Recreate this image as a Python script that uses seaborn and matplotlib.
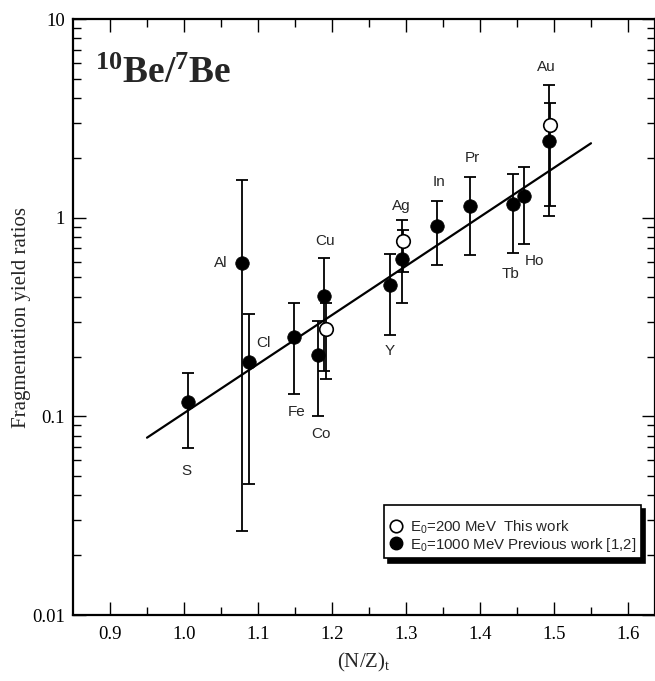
import numpy as np
import pandas as pd
import matplotlib
matplotlib.use("Agg")
import matplotlib.pyplot as plt
from matplotlib.ticker import FixedLocator, NullFormatter, LogLocator, FixedFormatter
from matplotlib.lines import Line2D
import seaborn as sns

# 1000 MeV (previous work) fragmentation yield ratios
targets = ['S', 'Al', 'Cl', 'Fe', 'Co', 'Cu', 'Y', 'Ag', 'In', 'Pr', 'Tb', 'Ho', 'Au']
nz_prev = [1.005, 1.078, 1.088, 1.149, 1.181, 1.189, 1.278, 1.295, 1.342, 1.387, 1.444, 1.460, 1.493]
ratio_prev = [0.118, 0.59, 0.187, 0.251, 0.203, 0.403, 0.457, 0.62, 0.911, 1.14, 1.176, 1.28, 2.42]
upper_prev = [0.165, 1.55, 0.328, 0.373, 0.301, 0.63, 0.657, 0.97, 1.22, 1.60, 1.66, 1.79, 4.66]
lower_prev = [0.0696, 0.0265, 0.0455, 0.129, 0.100, 0.170, 0.258, 0.37, 0.575, 0.652, 0.665, 0.738, 1.02]

# 200 MeV (this work)
nz_this = [1.192, 1.296, 1.495]
ratio_this = [0.274, 0.76, 2.93]
upper_this = [0.373, 0.87, 3.77]
lower_this = [0.155, 0.533, 1.14]

# exponential fit: log10(ratio) = fit_a + fit_b * (N/Z)
fit_a, fit_b = -3.454, 2.47
fit_range = [0.95, 1.55]

x_ticks = [0.9, 1.0, 1.1, 1.2, 1.3, 1.4, 1.5, 1.6]
y_ticks = [0.01, 0.1, 1, 10]
y_tick_labels = ['0.01', '0.1', '1', '10']

legend_labels = [r'E$_\mathsf{0}$=200 MeV  This work',
                 r'E$_\mathsf{0}$=1000 MeV Previous work [1,2]']

# label offsets (points) relative to each 1000 MeV point
label_offsets = {'S': (-0.7, -50), 'Al': (-15, 0), 'Cl': (10.4, 13.7), 'Fe': (1.7, -54),
                 'Co': (2.2, -57), 'Cu': (0.7, 39.4), 'Y': (0, -47.7), 'Ag': (-0.9, 37.9),
                 'In': (1.6, 31.2), 'Pr': (1.4, 34.6), 'Tb': (-1.7, -50.4), 'Ho': (7, -46.8),
                 'Au': (-1.7, 53.8)}

sns.set_style('ticks')
plt.rcParams['font.family'] = ['Liberation Serif', 'DejaVu Serif']
plt.rcParams['mathtext.fontset'] = 'custom'
plt.rcParams['mathtext.rm'] = 'Liberation Serif'
plt.rcParams['mathtext.bf'] = 'Liberation Serif:bold'
plt.rcParams['mathtext.sf'] = 'Liberation Sans'
plt.rcParams['mathtext.it'] = 'Liberation Serif:italic'

prev = pd.DataFrame({'nz': nz_prev, 'ratio': ratio_prev, 'hi': upper_prev,
                     'lo': lower_prev, 'target': targets})
this = pd.DataFrame({'nz': nz_this, 'ratio': ratio_this, 'hi': upper_this, 'lo': lower_this})

fig = plt.figure(figsize=(6.55, 6.81), dpi=100)
ax = fig.add_axes([73 / 655, 1 - 615 / 681, 582 / 655, 596 / 681])

# error bars
for df in (prev, this):
    ax.errorbar(df['nz'], df['ratio'],
                yerr=[df['ratio'] - df['lo'], df['hi'] - df['ratio']],
                fmt='none', ecolor='black', elinewidth=1.3, capsize=4.5, capthick=1.3, zorder=2)

# fit line
xf = np.array(fit_range)
fit = pd.DataFrame({'nz': xf, 'ratio': 10 ** (fit_a + fit_b * xf)})
sns.lineplot(data=fit, x='nz', y='ratio', color='black', lw=1.6, ax=ax, zorder=3)

# points
sns.scatterplot(data=prev, x='nz', y='ratio', s=95, color='black', edgecolor='black',
                linewidth=0.5, ax=ax, zorder=4)
sns.scatterplot(data=this, x='nz', y='ratio', s=95, facecolor='white', edgecolor='black',
                linewidth=1.2, ax=ax, zorder=5)

for _, row in prev.iterrows():
    ax.annotate(row['target'], (row['nz'], row['ratio']), xytext=label_offsets[row['target']],
                textcoords='offset points', ha='center', va='center',
                fontsize=11, family='Liberation Sans')

ax.set_yscale('log')
ax.set_xlim(0.85, 1.6365)
ax.set_ylim(0.01, 10)

ax.xaxis.set_major_locator(FixedLocator(x_ticks))
ax.xaxis.set_minor_locator(FixedLocator([t + 0.05 for t in x_ticks[:-1]]))
ax.set_xticklabels([f'{t:.1f}' for t in x_ticks])
ax.yaxis.set_major_locator(FixedLocator(y_ticks))
ax.yaxis.set_major_formatter(FixedFormatter(y_tick_labels))
ax.yaxis.set_minor_locator(LogLocator(base=10, subs=np.arange(2, 10)))
ax.yaxis.set_minor_formatter(NullFormatter())

ax.tick_params(which='both', direction='in', top=True, right=True, width=1.0,
               labelsize=13.5, color='black', labelcolor='black')
ax.tick_params(which='major', length=9.5)
ax.tick_params(axis='x', which='major', pad=8)
ax.tick_params(axis='y', which='major', pad=6)
ax.tick_params(which='minor', length=5.5)
for sp in ax.spines.values():
    sp.set_linewidth(1.6)
    sp.set_color('black')

ax.set_xlabel(r'(N/Z)$_\mathrm{t}$', fontsize=15, labelpad=6)
ax.set_ylabel('Fragmentation yield ratios', fontsize=15)
ax.yaxis.set_label_coords(-0.073, 0.5)

ax.text(0.038, 0.893, r'$^{\mathbf{10}}\mathbf{Be/}^{\mathbf{7}}\mathbf{Be}$',
        transform=ax.transAxes, fontsize=27, ha='left', va='baseline')

handles = [Line2D([], [], ls='none', marker='o', ms=9, mfc='white', mec='black', mew=1.2),
           Line2D([], [], ls='none', marker='o', ms=9, mfc='black', mec='black')]
leg = ax.legend(handles, legend_labels, loc='upper left', bbox_to_anchor=(0.534, 0.185),
                borderaxespad=0, frameon=True, fancybox=False,
                shadow={'color': 'black', 'alpha': 1.0, 'ox': 3, 'oy': -3},
                prop={'family': 'Liberation Sans', 'size': 10.8},
                title=' ', title_fontsize=8,
                handletextpad=0.4, labelspacing=0.0, borderpad=0.32, handlelength=1.0)
leg.get_frame().set_edgecolor('black')
leg.get_frame().set_linewidth(1.2)

fig.savefig('out.png', dpi=100)
